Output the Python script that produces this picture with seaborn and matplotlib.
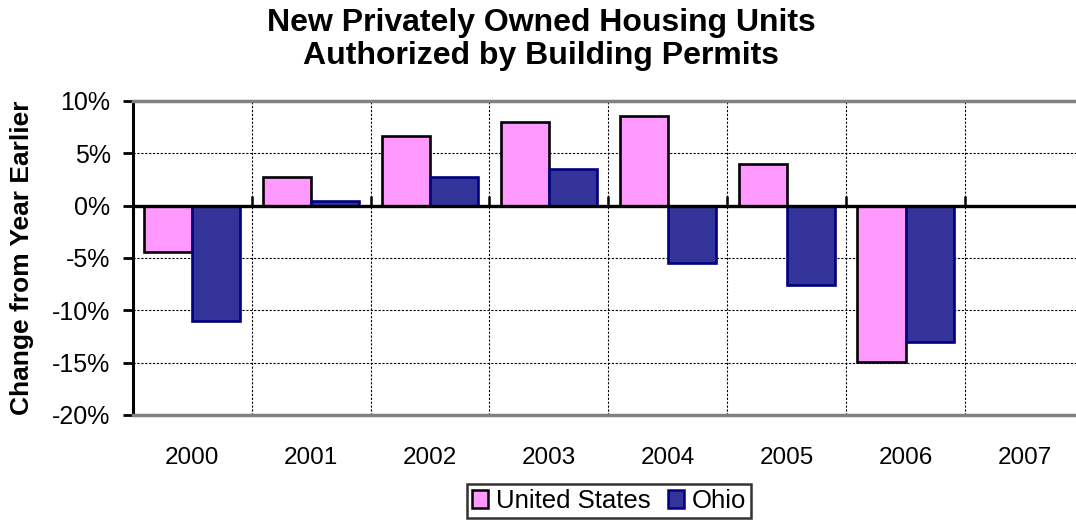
import numpy as np
import pandas as pd
import matplotlib
matplotlib.use("Agg")
import matplotlib.pyplot as plt
import seaborn as sns
from matplotlib.patches import Patch
from matplotlib.ticker import FuncFormatter, MultipleLocator

years = ["2000", "2001", "2002", "2003", "2004", "2005", "2006", "2007"]
us_change = [-4.4, 2.7, 6.7, 8.0, 8.6, 4.0, -14.9, np.nan]
ohio_change = [-11.0, 0.4, 2.7, 3.5, -5.5, -7.6, -13.0, np.nan]
series = ["United States", "Ohio"]

colors = {"United States": "#FF99FF", "Ohio": "#333399"}
edges = {"United States": "#000000", "Ohio": "#000080"}

df = pd.DataFrame({
    "year": years * 2,
    "series": [series[0]] * len(years) + [series[1]] * len(years),
    "change": us_change + ohio_change,
})

sns.set_style("white")
plt.rcParams["font.family"] = ["Liberation Sans", "DejaVu Sans"]
plt.rcParams["text.color"] = "black"
plt.rcParams["xtick.color"] = "black"
plt.rcParams["ytick.color"] = "black"
plt.rcParams["axes.labelcolor"] = "black"

fig = plt.figure(figsize=(10.76, 5.21), dpi=100)
ax = fig.add_axes([0.1234, 0.2035, 0.884, 0.6027])

sns.barplot(data=df, x="year", y="change", hue="series", order=years,
            hue_order=series, palette=colors, width=0.81, ax=ax,
            legend=False, saturation=1)

# bar outlines per series
for container, name in zip(ax.containers, series):
    for bar in container:
        bar.set_edgecolor(edges[name])
        bar.set_linewidth(1.9)

ax.set_xlim(-0.5, len(years) - 0.5)
ax.set_ylim(-20, 10)
ax.yaxis.set_major_locator(MultipleLocator(5))
ax.yaxis.set_major_formatter(FuncFormatter(lambda v, p: f"{v:.0f}%"))

# gridlines: horizontal at y ticks, vertical at category boundaries
ax.set_xticks(np.arange(len(years)) + 0.5, minor=True)
ax.grid(True, axis="y", which="major", color="black", linestyle=(0, (2, 1.5)), linewidth=0.8)
ax.grid(True, axis="x", which="minor", color="black", linestyle=(0, (2, 1.5)), linewidth=0.8)
ax.grid(False, axis="x", which="major")
ax.set_axisbelow(True)

ax.tick_params(axis="x", which="both", length=0, labelsize=17.5, pad=23)
ax.tick_params(axis="y", which="major", left=True, length=7, width=2,
               direction="out", labelsize=18, pad=9)

for side in ["top", "bottom"]:
    ax.spines[side].set_color("#808080")
    ax.spines[side].set_linewidth(2.5)
ax.spines["right"].set_visible(False)
ax.spines["left"].set_color("black")
ax.spines["left"].set_linewidth(2.2)

# category axis crossing at zero, with small boundary ticks
ax.axhline(0, color="black", linewidth=2.4, zorder=4)
zero_axis = ax.secondary_xaxis(2 / 3)
zero_axis.set_xticks(np.arange(len(years)) - 0.5)
zero_axis.set_xticklabels([])
zero_axis.tick_params(length=7, width=1.8, direction="out", color="black")
zero_axis.spines["bottom"].set_visible(False)

ax.set_xlabel("")
ax.set_ylabel("Change from Year Earlier", fontsize=19, fontweight="bold", labelpad=13)

fig.suptitle("New Privately Owned Housing Units\nAuthorized by Building Permits",
             x=0.503, y=0.985, fontsize=23, fontweight="bold", linespacing=1.15)

handles = [Patch(facecolor=colors[s], edgecolor=edges[s], linewidth=1.8) for s in series]
leg = fig.legend(handles, series, loc="center", bbox_to_anchor=(0.566, 0.038),
                 ncol=2, frameon=True, fontsize=18.5, handlelength=0.6,
                 handleheight=0.7, handletextpad=0.3, columnspacing=0.7,
                 borderpad=0.2, fancybox=False, borderaxespad=0)
leg.get_frame().set_edgecolor("black")
leg.get_frame().set_linewidth(1.8)

fig.savefig("out.png", dpi=100)
